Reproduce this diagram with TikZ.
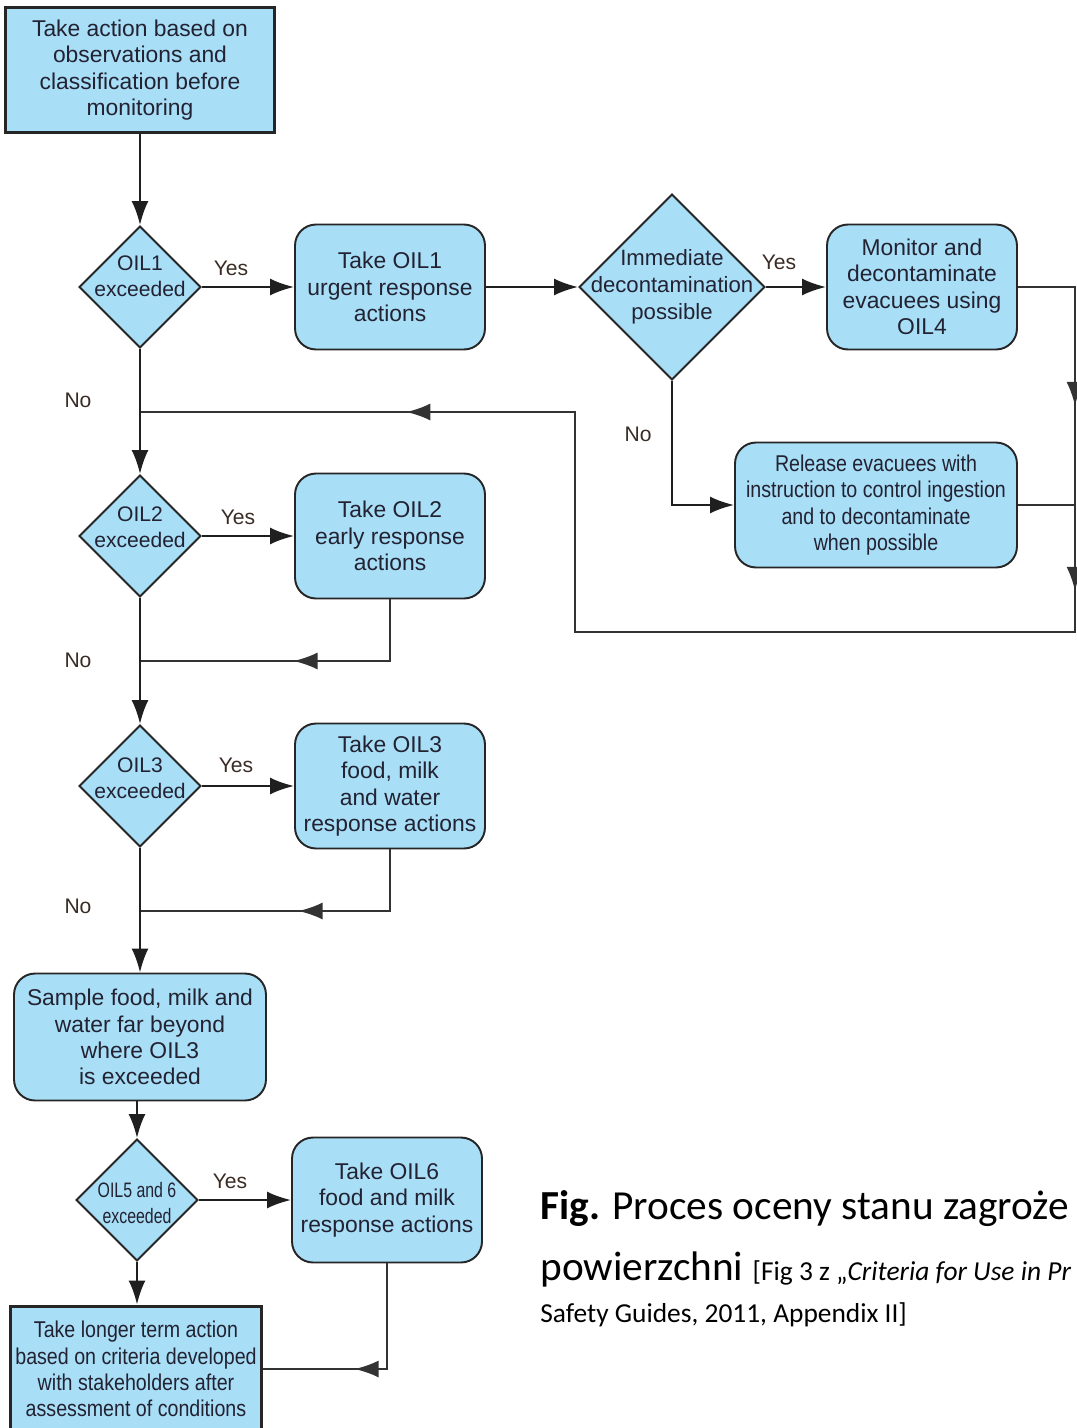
\documentclass[tikz,border=0pt]{standalone}
\usepackage{fontspec}
\setmainfont{Liberation Sans}
\newfontfamily\narrowfont[FakeStretch=0.86]{Liberation Sans}
\newfontfamily\narrowerfont[FakeStretch=0.76]{Liberation Sans}
\newfontfamily\capfont{Carlito}
\usetikzlibrary{arrows.meta,shapes.geometric,decorations.markings}
\definecolor{boxfill}{RGB}{168,222,246}
\definecolor{boxtext}{RGB}{34,34,50}
\definecolor{yntext}{RGB}{58,44,36}
\newcommand{\dtxt}[2][0pt]{\makebox[0pt]{\raisebox{#1}[0pt][0pt]{\begin{tabular}{@{}c@{}}#2\end{tabular}}}}
\tikzset{
	>={Latex[length=4.8mm,width=3.4mm]},
	act/.style={draw=black!85, line width=1.1pt, fill=boxfill, text=boxtext, rounded corners=0.42cm, align=center, inner sep=0pt, minimum width=3.8cm, minimum height=2.5cm, font=\fontsize{13}{15}\selectfont},
	term/.style={act, rounded corners=0pt, line width=1.7pt},
	dec/.style={diamond, draw=black!85, line width=1.1pt, fill=boxfill, text=boxtext, inner sep=0pt, minimum width=2.44cm, minimum height=2.44cm, font=\fontsize{12}{14.7}\selectfont},
	yn/.style={text=yntext, font=\fontsize{12}{14}\selectfont},
	conn/.style={draw=black!88, line width=1.3pt, ->},
	fb/.style={draw=black!80, line width=1pt},
	marr/.style={postaction={decorate, decoration={markings, mark=at position #1 with {\arrow{>}}}}},
}

\begin{document}
\begin{tikzpicture}[x=0.02cm, y=-0.02cm]
	%%%%% START %%%%%
	\useasboundingbox (0,0) rectangle (1077,1428);
	\clip (0,0) rectangle (1077,1428);
	
	\node[term, minimum width=5.4cm] (start) at (140,70) {Take action based on\\observations and\\classification before\\monitoring};
	\node[dec] (oil1) at (140,287) {\dtxt[2pt]{OIL1\\exceeded}};
	\node[act] (act1) at (390,287) {Take OIL1\\urgent response\\actions};
	\node[dec, minimum width=3.72cm, minimum height=3.72cm, font=\fontsize{12.6}{15.3}\selectfont] (decon) at (672,287) {\dtxt[-3pt]{Immediate\\decontamination\\possible}};
	\node[act] (monit) at (922,287) {Monitor and\\decontaminate\\evacuees using\\OIL4};
	\node[act, minimum width=5.64cm, font=\narrowfont\fontsize{13}{15.1}\selectfont] (release) at (876,505) {Release evacuees with\\instruction to control ingestion\\and to decontaminate\\when possible};
	
	\node[dec] (oil2) at (140,536) {\dtxt[1pt]{OIL2\\exceeded}};
	\node[act] (act2) at (390,536) {Take OIL2\\early response\\actions};
	
	\node[dec] (oil3) at (140,786) {\dtxt{OIL3\\exceeded}};
	\node[act] (act3) at (390,786) {Take OIL3\\food, milk\\and water\\response actions};
	
	\node[act, minimum width=5.04cm, minimum height=2.54cm] (sample) at (140,1037) {Sample food, milk and\\water far beyond\\where OIL3\\is exceeded};
	\node[dec, font=\narrowerfont\fontsize{11.9}{14.8}\selectfont] (oil56) at (137,1200) {\dtxt[-6pt]{OIL5 and 6\\exceeded}};
	\node[act] (act6) at (387,1200) {Take OIL6\\food and milk\\response actions};
	\node[term, minimum width=5.04cm, minimum height=2.52cm, font=\narrowfont\fontsize{13}{15}\selectfont] (longer) at (136,1369) {Take longer term action\\based on criteria developed\\with stakeholders after\\assessment of conditions};
	
	\node[yn] (yes1) at (231,268) {Yes};
	\node[yn] (yes2) at (779,262) {Yes};
	\node[yn] (no1) at (78,400) {No};
	\node[yn] (no2) at (638,434) {No};
	\node[yn] (yes3) at (238,517) {Yes};
	\node[yn] (no3) at (78,660) {No};
	\node[yn] (yes4) at (236,765) {Yes};
	\node[yn] (no4) at (78,906) {No};
	\node[yn] (yes5) at (230,1181) {Yes};
	
	\coordinate (rtop) at (1075,287);
	\coordinate (rbot) at (1075,632);
	\coordinate (lbot) at (575,632);
	\coordinate (ltop) at (575,412);
	\coordinate (join1) at (140,412);
	\coordinate (join2) at (140,661);
	\coordinate (join3) at (140,911);
	
	\draw[conn] (start.south) -- (oil1.north);
	\draw[conn] (oil1.east) -- (act1.west);
	\draw[conn] (act1.east) -- (decon.west);
	\draw[conn] (decon.east) -- (monit.west);
	\draw[conn] (decon.south) |- (release.west);
	\draw[fb, line width=1.2pt, marr=3.52cm, marr=7.22cm, marr=25.82cm] (monit.east) -- (rtop) -- (rbot) -- (lbot) -- (ltop) -- (join1);
	\draw[fb, line width=1.2pt] (release.east) -- (release.east -| rtop);
	
	\draw[conn] (oil1.south) -- (oil2.north);
	\draw[conn] (oil2.east) -- (act2.west);
	\draw[fb, marr=3.16cm] (act2.south) |- (join2);
	
	\draw[conn] (oil2.south) -- (oil3.north);
	\draw[conn] (oil3.east) -- (act3.west);
	\draw[fb, marr=3.06cm] (act3.south) |- (join3);
	
	\draw[conn] (oil3.south) -- (sample.north);
	\draw[conn] (sample.south -| oil56.north) -- (oil56.north);
	\draw[conn] (oil56.east) -- (act6.west);
	\draw[conn] (oil56.south) -- (oil56.south |- longer.north);
	\draw[fb, line width=1.2pt, marr=2.76cm] (act6.south) |- (longer.east);
	
	\node[anchor=base west, inner sep=0pt, font=\capfont\fontsize{23.5}{28}\selectfont] (capA) at (540,1219) {\textbf{Fig.} Proces oceny stanu zagroże};
	\node[anchor=base west, inner sep=0pt, font=\capfont\fontsize{23.5}{28}\selectfont] (capB) at (540,1280) {powierzchni {\fontsize{15.6}{19}\selectfont[Fig 3 z „\textit{Criteria for Use in Pr}}};
	\node[anchor=base west, inner sep=0pt, font=\capfont\fontsize{15.6}{19}\selectfont] (capC) at (540,1322) {Safety Guides, 2011, Appendix II]};
	
	%%%%% END %%%%%
\end{tikzpicture}
\end{document}
